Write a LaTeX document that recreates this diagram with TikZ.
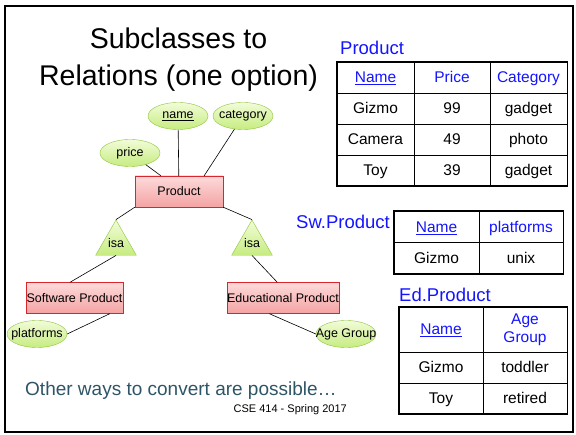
\documentclass[tikz,border=0pt]{standalone}
\usepackage{fontspec}
\setmainfont{Liberation Sans}
\usepackage{tikz}
\usetikzlibrary{positioning,shapes.geometric}

\definecolor{entityline}{HTML}{D8262C}
\definecolor{entitytop}{HTML}{FDDADA}
\definecolor{entitybottom}{HTML}{F4A3A3}
\definecolor{attrline}{HTML}{8CC43C}
\definecolor{attrtop}{HTML}{F2FCD8}
\definecolor{attrbottom}{HTML}{C6EC80}
\definecolor{relblue}{HTML}{1414FF}
\definecolor{notegray}{HTML}{2E5566}

\begin{document}
\begin{tikzpicture}
    [ x = 1pt, y = -1pt
    , title/.style =
      { align = center, inner sep = 0pt, font = \fontsize{28.5}{37}\selectfont }
    , entity/.style =
      { draw = entityline, top color = entitytop, bottom color = entitybottom
      , minimum width = 88pt, minimum height = 31pt, inner sep = 0pt
      , font = \fontsize{12.5}{15}\selectfont }
    , attribute/.style =
      { draw = attrline, ellipse, top color = attrtop, bottom color = attrbottom
      , minimum width = 60pt, minimum height = 27pt, inner sep = 0pt
      , font = \fontsize{12.5}{15}\selectfont
      , execute at begin node = \hbox to 0pt\bgroup\hss
      , execute at end node = \hss\egroup }
    , isa/.style =
      { draw = attrline, regular polygon, regular polygon sides = 3
      , top color = attrtop, bottom color = attrbottom
      , minimum size = 47pt, inner sep = 0pt
      , font = \fontsize{12.5}{15}\selectfont }
    , edge/.style =
      { line width = .6pt }
    , relname/.style =
      { anchor = base west, inner sep = 0pt, text = relblue
      , font = \fontsize{18.5}{22}\selectfont }
    , cell/.style =
      { draw, line width = .8pt, inner sep = 0pt, minimum height = 31pt
      , text height = 14pt, text depth = 3pt
      , font = \fontsize{15.5}{18}\selectfont }
    , head/.style =
      { cell, text = relblue }
    , tableframe/.style =
      { line width = 1.8pt }
    ]
    \useasboundingbox (0,0) rectangle (576,435);
    \draw [line width = 2pt] (4.5,6) rectangle (573,432.5);

    \node [title, anchor = north] (title) at (178.5,27.5) {Subclasses to\\Relations (one option)};

    % E/R diagram
    \node [attribute] (name) at (178,116) {\underline{name}};
    \node [attribute] (category) at (243,116) {category};
    \node [attribute] (price) at (130,153) {price};
    \node [entity] (product) at (179,191.5) {Product};
    \node [isa] (isaL) at (116,243.5) {isa};
    \node [isa] (isaR) at (252,243.5) {isa};
    \node [entity, minimum width = 97pt] (swprod) at (74.5,298) {Software Product};
    \node [entity, minimum width = 110pt] (edprod) at (283,298) {Educational Product};
    \node [attribute] (platforms) at (37,334) {platforms};
    \node [attribute] (agegroup) at (346,334) {Age Group};

    \draw [edge] (name) -- (product);
    \draw [edge] (category) -- (product.32);
    \draw [edge] (price) -- (product.139);
    \draw [edge] (product.south west) -- (isaL.corner 1);
    \draw [edge] (product.south east) -- (isaR.corner 1);
    \draw [edge] (isaL.side 2) -- (swprod.106);
    \draw [edge] (isaR.side 2) -- (edprod.110);
    \draw [edge] (swprod.-24) -- (platforms.east);
    \draw [edge] (edprod.229) -- (agegroup.west);

    % Product relation
    \node [relname] (productlabel) at (340,55) {Product};
    \node [head, minimum width = 77pt] (pName) at (375.5,77.5) {\underline{Name}};
    \node [head, minimum width = 76pt] (pPrice) at (452,77.5) {Price};
    \node [head, minimum width = 77pt] (pCategory) at (528.5,77.5) {Category};
    \node [cell, minimum width = 77pt] (pGizmo) at (375.5,108.5) {Gizmo};
    \node [cell, minimum width = 76pt] (p99) at (452,108.5) {99};
    \node [cell, minimum width = 77pt] (pGadget1) at (528.5,108.5) {gadget};
    \node [cell, minimum width = 77pt] (pCamera) at (375.5,139.5) {Camera};
    \node [cell, minimum width = 76pt] (p49) at (452,139.5) {49};
    \node [cell, minimum width = 77pt] (pPhoto) at (528.5,139.5) {photo};
    \node [cell, minimum width = 77pt] (pToy) at (375.5,170.5) {Toy};
    \node [cell, minimum width = 76pt] (p39) at (452,170.5) {39};
    \node [cell, minimum width = 77pt] (pGadget2) at (528.5,170.5) {gadget};
    \draw [tableframe] (pName.north west) rectangle (pGadget2.south east);

    % Sw.Product relation
    \node [relname] (swlabel) at (296,229) {Sw.Product};
    \node [head, minimum width = 85pt] (sName) at (436.5,227) {\underline{Name}};
    \node [head, minimum width = 84pt] (sPlatforms) at (521,227) {platforms};
    \node [cell, minimum width = 85pt] (sGizmo) at (436.5,258) {Gizmo};
    \node [cell, minimum width = 84pt] (sUnix) at (521,258) {unix};
    \draw [tableframe] (sName.north west) rectangle (sUnix.south east);

    % Ed.Product relation
    \node [relname] (edlabel) at (399,302) {Ed.Product};
    \node [head, minimum width = 84pt, minimum height = 45pt] (eName) at (441,329.5) {\underline{Name}};
    \node [head, minimum width = 84pt, minimum height = 45pt, text height = {}, text depth = {}, align = center]
      (eAgeGroup) at (525,329.5) {Age\\Group};
    \node [cell, minimum width = 84pt] (eGizmo) at (441,367.5) {Gizmo};
    \node [cell, minimum width = 84pt] (eToddler) at (525,367.5) {toddler};
    \node [cell, minimum width = 84pt] (eToy) at (441,398.5) {Toy};
    \node [cell, minimum width = 84pt] (eRetired) at (525,398.5) {retired};
    \draw [tableframe] (eName.north west) rectangle (eRetired.south east);

    % notes
    \node [anchor = base west, inner sep = 0pt, text = notegray, font = \fontsize{19}{22}\selectfont]
      (other) at (25,396) {Other ways to convert are possible…};
    \node [anchor = base east, inner sep = 0pt, font = \fontsize{11}{13}\selectfont]
      (footer) at (347,413) {CSE 414 - Spring 2017};
\end{tikzpicture}
\end{document}
